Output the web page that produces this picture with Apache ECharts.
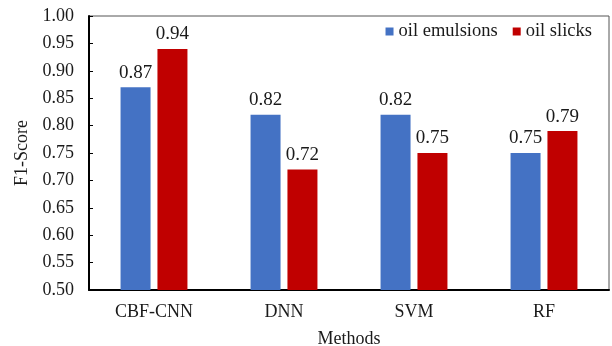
<!DOCTYPE html>
<html>
<head>
<meta charset="utf-8">
<script src="https://cdn.jsdelivr.net/npm/echarts@6/dist/echarts.min.js"></script>
<style>html,body{margin:0;padding:0;background:#fff}#c{width:612px;height:346px}</style>
</head>
<body>
<div id="c"></div>
<script>
var categories = ['CBF-CNN', 'DNN', 'SVM', 'RF'];
var oilEmulsions = [0.87, 0.82, 0.82, 0.75];
var oilSlicks = [0.94, 0.72, 0.75, 0.79];
var seriesNames = ['oil emulsions', 'oil slicks'];

var font = 'Liberation Serif';
var chart = echarts.init(document.getElementById('c'));
chart.setOption({
  animation: false,
  textStyle: { fontFamily: font },
  grid: { left: 89, right: 3, top: 16, bottom: 56, show: true, borderColor: '#555', borderWidth: 1,
    outerBoundsMode: 'none', containLabel: false },
  legend: {
    data: seriesNames,
    right: 15, top: 17,
    icon: 'rect', itemWidth: 8, itemHeight: 8, itemGap: 15,
    textStyle: { fontFamily: font, fontSize: 18.5, color: '#1a1a1a' }
  },
  xAxis: {
    type: 'category',
    data: categories,
    name: 'Methods',
    nameLocation: 'middle',
    nameGap: 40,
    nameTextStyle: { fontFamily: font, fontSize: 18, color: '#1a1a1a' },
    axisLine: { lineStyle: { color: '#000', width: 2 } },
    axisTick: { inside: true, length: 5, lineStyle: { color: '#000' } },
    axisLabel: { fontFamily: font, fontSize: 18, color: '#1a1a1a', margin: 13 }
  },
  yAxis: {
    type: 'value',
    min: 0.5, max: 1.0, interval: 0.05,
    name: 'F1-Score',
    nameLocation: 'middle',
    nameGap: 58,
    nameTextStyle: { fontFamily: font, fontSize: 18, color: '#1a1a1a' },
    axisLine: { show: true, lineStyle: { color: '#000', width: 2 } },
    axisTick: { show: true, inside: true, length: 4, lineStyle: { color: '#000' } },
    splitLine: { show: false },
    axisLabel: { fontFamily: font, fontSize: 18, color: '#1a1a1a', margin: 15,
      formatter: function (v) { return v.toFixed(2); } }
  },
  series: [
    { name: seriesNames[0], type: 'bar', data: oilEmulsions, barWidth: 30, barGap: '23%',
      itemStyle: { color: '#4472C4' },
      label: { show: true, position: 'top', distance: 5, fontFamily: font, fontSize: 19, color: '#1a1a1a',
        formatter: function (p) { return p.value.toFixed(2); } } },
    { name: seriesNames[1], type: 'bar', data: oilSlicks, barWidth: 30, barGap: '23%',
      itemStyle: { color: '#C00000' },
      label: { show: true, position: 'top', distance: 5, fontFamily: font, fontSize: 19, color: '#1a1a1a',
        formatter: function (p) { return p.value.toFixed(2); } } }
  ]
});
</script>
</body>
</html>
